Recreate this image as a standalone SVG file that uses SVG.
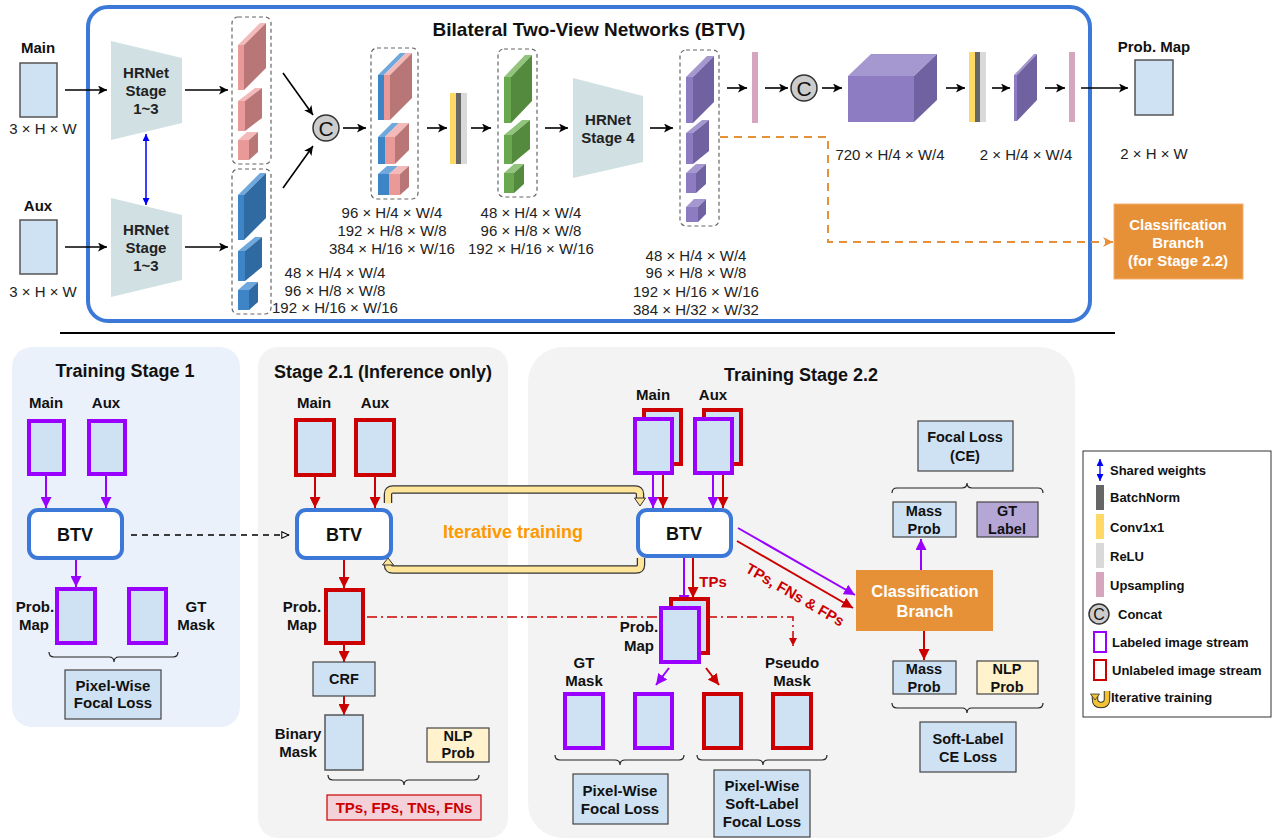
<svg xmlns="http://www.w3.org/2000/svg" width="1272" height="839" viewBox="0 0 1272 839">
  <style>
    text { font-family: "Liberation Sans", Arial, sans-serif; fill: #111; text-anchor: middle; }
    .b { font-weight: bold; }
    .lbl { font-size: 15px; font-weight: bold; }
    .dim { font-size: 15px; fill: #222; }
    .hr { font-size: 15px; font-weight: bold; fill: #222; }
    .btv { font-size: 18px; font-weight: bold; }
    .ttl { font-size: 18px; font-weight: bold; }
    .box { font-size: 14.5px; font-weight: bold; }
    .leg { font-size: 13px; font-weight: bold; text-anchor: start; }
    .wht { fill: #fff; font-weight: bold; }
    .red { fill: #cc0000; font-weight: bold; }
    .img { fill: #cfe2f3; stroke: #555; stroke-width: 1.5; }
    .lab { fill: #cfe2f3; stroke: #9900ff; stroke-width: 4; }
    .unl { fill: #cfe2f3; stroke: #cc0000; stroke-width: 4; }
    .net { fill: #fff; stroke: #3c78d8; stroke-width: 4; }
    .hrnet { fill: #d0e0e3; }
    .stack { fill: none; stroke: #666; stroke-width: 1.2; stroke-dasharray: 4 3; }
    .ar { stroke: #000; stroke-width: 1.6; fill: none; marker-end: url(#ahK); }
    .arP { stroke: #9900ff; stroke-width: 2; fill: none; marker-end: url(#ahP); }
    .arR { stroke: #cc0000; stroke-width: 2; fill: none; marker-end: url(#ahR); }
    .brace { fill: none; stroke: #222; stroke-width: 1.2; }
    .loss { fill: #cfe2f3; stroke: #444; stroke-width: 1.2; }
    .concat { fill: #cccccc; stroke: #333; stroke-width: 1.5; }
    .pkF { fill: #ea9999; } .pkT { fill: #f4b9b9; } .pkS { fill: #b87676; }
    .blF { fill: #3d85c6; } .blT { fill: #6fa8dc; } .blS { fill: #2f6aa2; }
    .gnF { fill: #6aa84f; } .gnT { fill: #93c47d; } .gnS { fill: #548a3e; }
    .puF { fill: #8e7cc3; } .puT { fill: #a597cf; } .puS { fill: #7062a0; }
    .iter { fill: none; stroke-linejoin: round; }
  </style>
  <defs>
    <marker id="ahK" viewBox="0 0 10 10" refX="10" refY="5" markerWidth="10" markerHeight="9" markerUnits="userSpaceOnUse" orient="auto">
      <path d="M0,0 L10,5 L0,10 L2.5,5 z" fill="#000"/>
    </marker>
    <marker id="ahP" viewBox="0 0 10 10" refX="10" refY="5" markerWidth="11" markerHeight="11" markerUnits="userSpaceOnUse" orient="auto">
      <path d="M0,0 L10,5 L0,10 z" fill="#9900ff"/>
    </marker>
    <marker id="ahR" viewBox="0 0 10 10" refX="10" refY="5" markerWidth="11" markerHeight="11" markerUnits="userSpaceOnUse" orient="auto">
      <path d="M0,0 L10,5 L0,10 z" fill="#cc0000"/>
    </marker>
    <marker id="ahRs" viewBox="0 0 10 10" refX="10" refY="5" markerWidth="8" markerHeight="8" markerUnits="userSpaceOnUse" orient="auto">
      <path d="M0,0 L10,5 L0,10 z" fill="#cc0000"/>
    </marker>
    <marker id="ahB" viewBox="0 0 10 10" refX="10" refY="5" markerWidth="8" markerHeight="7" markerUnits="userSpaceOnUse" orient="auto-start-reverse">
      <path d="M0,0 L10,5 L0,10 z" fill="#0000ff"/>
    </marker>
    <marker id="ahO" viewBox="0 0 10 10" refX="10" refY="5" markerWidth="11" markerHeight="10" markerUnits="userSpaceOnUse" orient="auto">
      <path d="M0,0 L10,5 L0,10 L3,5 z" fill="#e69138"/>
    </marker>
    <marker id="ahOpen" viewBox="0 0 10 10" refX="10" refY="5" markerWidth="9" markerHeight="8" markerUnits="userSpaceOnUse" orient="auto">
      <path d="M1,1 L9.5,5 L1,9 z" fill="#fff" stroke="#000" stroke-width="1.3"/>
    </marker>
  </defs>

  <rect width="1272" height="839" fill="#fff"/>

  <!-- ============ BTV architecture ============ -->
  <g id="btv-frame">
    <rect x="88" y="7" width="1002" height="314" rx="20" fill="none" stroke="#3c78d8" stroke-width="4"/>
    <text x="589" y="36" class="b" style="font-size:19px">Bilateral Two-View Networks (BTV)</text>
  </g>

  <g id="input-main">
    <text x="38" y="53" class="lbl">Main</text>
    <rect x="20" y="63" width="37" height="54" class="img"/>
    <text x="43" y="134" class="dim">3 × H × W</text>
  </g>
  <g id="input-aux">
    <text x="38" y="211" class="lbl">Aux</text>
    <rect x="20" y="220" width="37" height="54" class="img"/>
    <text x="43" y="297" class="dim">3 × H × W</text>
  </g>

  <g id="hrnet-main">
    <polygon points="111,41 182,58 182,123 111,140" class="hrnet"/>
    <text x="146" y="78" class="hr">HRNet</text>
    <text x="146" y="96" class="hr">Stage</text>
    <text x="146" y="114" class="hr">1~3</text>
  </g>
  <g id="hrnet-aux">
    <polygon points="111,198 182,215 182,280 111,297" class="hrnet"/>
    <text x="146" y="235" class="hr">HRNet</text>
    <text x="146" y="253" class="hr">Stage</text>
    <text x="146" y="271" class="hr">1~3</text>
  </g>

  <g id="feat-main">
    <rect x="232" y="17" width="39" height="147" rx="6" class="stack"/>
    <rect x="238" y="45" width="6" height="45" class="pkF"/>
    <polygon points="238,45 244,45 266,23 260,23" class="pkT"/>
    <polygon points="244,45 266,23 266,68 244,90" class="pkS"/>
    <rect x="238" y="101" width="7" height="30" class="pkF"/>
    <polygon points="238,101 245,101 262,88 255,88" class="pkT"/>
    <polygon points="245,101 262,88 262,118 245,131" class="pkS"/>
    <rect x="238" y="140" width="11" height="20" class="pkF"/>
    <polygon points="238,140 249,140 258,132 247,132" class="pkT"/>
    <polygon points="249,140 258,132 258,152 249,160" class="pkS"/>
  </g>
  <g id="feat-aux">
    <rect x="232" y="169" width="39" height="145" rx="6" class="stack"/>
    <rect x="238" y="195" width="6" height="45" class="blF"/>
    <polygon points="238,195 244,195 266,173 260,173" class="blT"/>
    <polygon points="244,195 266,173 266,218 244,240" class="blS"/>
    <rect x="238" y="251" width="7" height="30" class="blF"/>
    <polygon points="238,251 245,251 262,237 255,237" class="blT"/>
    <polygon points="245,251 262,237 262,267 245,281" class="blS"/>
    <rect x="238" y="290" width="11" height="20" class="blF"/>
    <polygon points="238,290 249,290 258,282 247,282" class="blT"/>
    <polygon points="249,290 258,282 258,302 249,310" class="blS"/>
    <text x="335" y="278" class="dim">48 × H/4 × W/4</text>
    <text x="335" y="296" class="dim">96 × H/8 × W/8</text>
    <text x="335" y="313" class="dim">192 × H/16 × W/16</text>
  </g>

  <g id="concat-1">
    <circle cx="326" cy="128" r="13" class="concat"/>
    <text x="326" y="135.5" style="font-size:21px">C</text>
  </g>

  <g id="feat-concat">
    <rect x="371" y="48" width="47" height="151" rx="6" class="stack"/>
    <rect x="378" y="75" width="6" height="45" class="blF"/>
    <rect x="384" y="75" width="6" height="45" class="pkF"/>
    <polygon points="378,75 384,75 406,53 400,53" class="blT"/>
    <polygon points="384,75 390,75 412,53 406,53" class="pkT"/>
    <polygon points="390,75 412,53 412,98 390,120" class="pkS"/>
    <rect x="378" y="137" width="7" height="27" class="blF"/>
    <rect x="385" y="137" width="10" height="27" class="pkF"/>
    <polygon points="378,137 385,137 399,123 392,123" class="blT"/>
    <polygon points="385,137 395,137 409,123 399,123" class="pkT"/>
    <polygon points="395,137 409,123 409,150 395,164" class="pkS"/>
    <rect x="378" y="174" width="11" height="21" class="blF"/>
    <rect x="389" y="174" width="11" height="21" class="pkF"/>
    <polygon points="378,174 389,174 398,166 387,166" class="blT"/>
    <polygon points="389,174 400,174 409,166 398,166" class="pkT"/>
    <polygon points="400,174 409,166 409,187 400,195" class="pkS"/>
    <text x="392" y="218" class="dim">96 × H/4 × W/4</text>
    <text x="392" y="236" class="dim">192 × H/8 × W/8</text>
    <text x="392" y="254" class="dim">384 × H/16 × W/16</text>
  </g>

  <g id="fuse-1">
    <rect x="450" y="93" width="6" height="71" fill="#ffd966"/>
    <rect x="456" y="93" width="5" height="71" fill="#666666"/>
    <rect x="461" y="93" width="6" height="71" fill="#d9d9d9"/>
  </g>

  <g id="feat-fused">
    <rect x="498" y="49" width="39" height="148" rx="6" class="stack"/>
    <rect x="504" y="77" width="7" height="46" class="gnF"/>
    <polygon points="504,77 511,77 532,55 525,55" class="gnT"/>
    <polygon points="511,77 532,55 532,101 511,123" class="gnS"/>
    <rect x="504" y="135" width="8" height="29" class="gnF"/>
    <polygon points="504,135 512,135 530,120 522,120" class="gnT"/>
    <polygon points="512,135 530,120 530,149 512,164" class="gnS"/>
    <rect x="504" y="173" width="10" height="20" class="gnF"/>
    <polygon points="504,173 514,173 524,164 514,164" class="gnT"/>
    <polygon points="514,173 524,164 524,184 514,193" class="gnS"/>
    <text x="531" y="218" class="dim">48 × H/4 × W/4</text>
    <text x="531" y="236" class="dim">96 × H/8 × W/8</text>
    <text x="531" y="254" class="dim">192 × H/16 × W/16</text>
  </g>

  <g id="hrnet-stage4">
    <polygon points="573,78 643,96 643,162 573,178" class="hrnet"/>
    <text x="608" y="125" class="hr">HRNet</text>
    <text x="608" y="143" class="hr">Stage 4</text>
  </g>

  <g id="feat-stage4">
    <rect x="680" y="50" width="39" height="176" rx="6" class="stack"/>
    <rect x="686" y="77" width="7" height="46" class="puF"/>
    <polygon points="686,77 693,77 714,56 707,56" class="puT"/>
    <polygon points="693,77 714,56 714,102 693,123" class="puS"/>
    <rect x="686" y="133" width="7" height="31" class="puF"/>
    <polygon points="686,133 693,133 709,120 702,120" class="puT"/>
    <polygon points="693,133 709,120 709,151 693,164" class="puS"/>
    <rect x="686" y="173" width="10" height="20" class="puF"/>
    <polygon points="686,173 696,173 706,164 696,164" class="puT"/>
    <polygon points="696,173 706,164 706,184 696,193" class="puS"/>
    <rect x="686" y="207" width="12" height="15" class="puF"/>
    <polygon points="686,207 698,207 706,199 694,199" class="puT"/>
    <polygon points="698,207 706,199 706,214 698,222" class="puS"/>
    <text x="696" y="261" class="dim">48 × H/4 × W/4</text>
    <text x="696" y="278" class="dim">96 × H/8 × W/8</text>
    <text x="696" y="297" class="dim">192 × H/16 × W/16</text>
    <text x="696" y="315" class="dim">384 × H/32 × W/32</text>
  </g>

  <g id="upsample-1">
    <rect x="752" y="52" width="6" height="71" fill="#d5a6bd"/>
  </g>
  <g id="concat-2">
    <circle cx="804" cy="88" r="13" class="concat"/>
    <text x="804" y="95.5" style="font-size:21px">C</text>
  </g>
  <g id="feat-720">
    <rect x="848" y="76" width="66" height="46" class="puF"/>
    <polygon points="848,76 914,76 937,54 871,54" class="puT"/>
    <polygon points="914,76 937,54 937,100 914,122" class="puS"/>
    <text x="890" y="160" class="dim">720 × H/4 × W/4</text>
  </g>
  <g id="fuse-2">
    <rect x="969" y="52" width="6" height="70" fill="#ffd966"/>
    <rect x="975" y="52" width="5" height="70" fill="#666666"/>
    <rect x="980" y="52" width="6" height="70" fill="#d9d9d9"/>
  </g>
  <g id="feat-2ch">
    <rect x="1014" y="75" width="3" height="46" class="puF"/>
    <polygon points="1014,75 1017,75 1037,54 1034,54" class="puT"/>
    <polygon points="1017,75 1037,54 1037,100 1017,121" class="puS"/>
    <text x="1026" y="160" class="dim">2 × H/4 × W/4</text>
  </g>
  <g id="upsample-2">
    <rect x="1069" y="52" width="6" height="70" fill="#d5a6bd"/>
  </g>
  <g id="output-prob-map">
    <text x="1154" y="52" class="lbl">Prob. Map</text>
    <rect x="1135" y="60" width="38" height="55" class="img"/>
    <text x="1154" y="159" class="dim">2 × H × W</text>
  </g>
  <g id="cls-branch-ref">
    <rect x="1114" y="204" width="129" height="75" fill="#e69138" stroke="#f3b070" stroke-width="1"/>
    <text x="1178" y="230" class="wht" style="font-size:15px">Classification</text>
    <text x="1178" y="248" class="wht" style="font-size:15px">Branch</text>
    <text x="1178" y="266" class="wht" style="font-size:15px">(for Stage 2.2)</text>
  </g>

  <line x1="60" y1="333" x2="1115" y2="333" stroke="#000" stroke-width="2"/>

  <!-- ============ training stage panels ============ -->
  <g id="panel-stage1">
    <rect x="12" y="347" width="228" height="380" rx="20" fill="#ebf1fa"/>
    <text x="125" y="377" class="ttl">Training Stage 1</text>
  </g>
  <g id="panel-stage21">
    <rect x="258" y="347" width="250" height="491" rx="20" fill="#f3f3f3"/>
    <text x="383" y="378" class="ttl">Stage 2.1 (Inference only)</text>
  </g>
  <g id="panel-stage22">
    <rect x="528" y="347" width="547" height="491" rx="35" fill="#f3f3f3"/>
    <text x="801" y="381" class="ttl">Training Stage 2.2</text>
  </g>

  <!-- ============ connectors ============ -->
  <g id="connectors">
    <!-- architecture flow -->
    <line x1="65" y1="90" x2="107" y2="90" class="ar"/>
    <line x1="65" y1="247" x2="107" y2="247" class="ar"/>
    <line x1="146" y1="134" x2="146" y2="205" stroke="#0000ff" stroke-width="1.5" marker-start="url(#ahB)" marker-end="url(#ahB)"/>
    <line x1="185" y1="90" x2="228" y2="90" class="ar"/>
    <line x1="185" y1="247" x2="228" y2="247" class="ar"/>
    <line x1="283" y1="73" x2="313" y2="115" class="ar"/>
    <line x1="283" y1="188" x2="313" y2="146" class="ar"/>
    <line x1="343" y1="128" x2="366" y2="128" class="ar"/>
    <line x1="427" y1="128" x2="447" y2="128" class="ar"/>
    <line x1="471" y1="128" x2="491" y2="128" class="ar"/>
    <line x1="545" y1="128" x2="568" y2="128" class="ar"/>
    <line x1="650" y1="128" x2="673" y2="128" class="ar"/>
    <line x1="727" y1="88" x2="747" y2="88" class="ar"/>
    <line x1="765" y1="88" x2="788" y2="88" class="ar"/>
    <line x1="822" y1="88" x2="842" y2="88" class="ar"/>
    <line x1="946" y1="88" x2="965" y2="88" class="ar"/>
    <line x1="992" y1="88" x2="1010" y2="88" class="ar"/>
    <line x1="1045" y1="88" x2="1065" y2="88" class="ar"/>
    <line x1="1081" y1="88" x2="1128" y2="88" class="ar"/>
    <path d="M720,137 H828 V242 H1113" fill="none" stroke="#e69138" stroke-width="2" stroke-dasharray="8 6" marker-end="url(#ahO)"/>

    <!-- stage 1 -->
    <line x1="46" y1="476" x2="46" y2="508" class="arP"/>
    <line x1="106" y1="476" x2="106" y2="508" class="arP"/>
    <line x1="76" y1="560" x2="76" y2="587" class="arP"/>
    <line x1="131" y1="535" x2="289" y2="535" stroke="#000" stroke-width="1.4" stroke-dasharray="6 5" marker-end="url(#ahOpen)"/>

    <!-- stage 2.1 -->
    <line x1="315" y1="477" x2="315" y2="508" class="arR"/>
    <line x1="375" y1="477" x2="375" y2="508" class="arR"/>
    <line x1="344" y1="560" x2="344" y2="588" class="arR"/>
    <line x1="344" y1="645" x2="344" y2="662" class="arR"/>
    <line x1="344" y1="696" x2="344" y2="715" class="arR"/>
    <path d="M367,617 H793 V646" fill="none" stroke="#cc0000" stroke-width="1.5" stroke-dasharray="10 4 2 4" marker-end="url(#ahRs)"/>

    <!-- iterative training loop -->
    <path d="M388,503 V494 Q388,489.5 393,489.5 H635 Q640,489.5 640,494 V498" class="iter" stroke="#333" stroke-width="8.5"/>
    <path d="M388,503.5 V494 Q388,489.5 393,489.5 H635 Q640,489.5 640,494 V498.5" class="iter" stroke="#ffe599" stroke-width="6"/>
    <polygon points="634.5,498 645.5,498 640,506" fill="#ffe599" stroke="#333" stroke-width="1"/>
    <path d="M641,558 V565 Q641,569.5 636,569.5 H393 Q388,569.5 388,565 V565.5" class="iter" stroke="#333" stroke-width="8.5"/>
    <path d="M641,557.5 V565 Q641,569.5 636,569.5 H393 Q388,569.5 388,565 V565" class="iter" stroke="#ffe599" stroke-width="6"/>
    <polygon points="382.5,565 393.5,565 388,558" fill="#ffe599" stroke="#333" stroke-width="1"/>

    <!-- stage 2.2 -->
    <line x1="653" y1="475" x2="653" y2="508" class="arP"/>
    <line x1="663" y1="466" x2="663" y2="508" class="arR"/>
    <line x1="713" y1="475" x2="713" y2="508" class="arP"/>
    <line x1="723" y1="466" x2="723" y2="508" class="arR"/>
    <line x1="684" y1="558" x2="684" y2="606" class="arP"/>
    <line x1="693" y1="558" x2="693" y2="598" class="arR"/>
    <line x1="669" y1="668" x2="656" y2="685" class="arP"/>
    <line x1="706" y1="668" x2="719" y2="685" class="arR"/>
    <line x1="738" y1="528" x2="855" y2="595" class="arP"/>
    <line x1="737" y1="541" x2="853" y2="608" class="arR"/>
    <line x1="921" y1="570" x2="921" y2="539" class="arP"/>
    <line x1="924" y1="631" x2="924" y2="660" class="arR"/>
  </g>

  <text x="513" y="537.5" class="b" style="font-size:18px; fill:#ff9900">Iterative training</text>

  <!-- ============ stage 1 nodes ============ -->
  <g id="s1-main">
    <text x="46" y="408" class="lbl">Main</text>
    <rect x="29" y="421" width="35" height="53" class="lab"/>
  </g>
  <g id="s1-aux">
    <text x="106" y="408" class="lbl">Aux</text>
    <rect x="89" y="421" width="36" height="53" class="lab"/>
  </g>
  <g id="s1-btv">
    <rect x="29" y="510" width="93" height="48" rx="9" class="net"/>
    <text x="75" y="541" class="btv">BTV</text>
  </g>
  <g id="s1-prob-map">
    <rect x="57" y="589" width="38" height="54" class="lab"/>
    <text x="35" y="612" class="lbl">Prob.</text>
    <text x="34" y="630" class="lbl">Map</text>
  </g>
  <g id="s1-gt-mask">
    <rect x="129" y="589" width="37" height="54" class="lab"/>
    <text x="196" y="612" class="lbl">GT</text>
    <text x="196" y="630" class="lbl">Mask</text>
  </g>
  <g id="s1-loss">
    <path d="M49,652 Q49,657 54,657 L109,657 Q114,657 114,662 Q114,657 119,657 L173,657 Q178,657 178,652" class="brace"/>
    <rect x="65" y="670" width="96" height="49" class="loss"/>
    <text x="113" y="691" class="lbl">Pixel-Wise</text>
    <text x="113" y="708" class="lbl">Focal Loss</text>
  </g>

  <!-- ============ stage 2.1 nodes ============ -->
  <g id="s21-main">
    <text x="314" y="408" class="lbl">Main</text>
    <rect x="296" y="420" width="38" height="55" class="unl"/>
  </g>
  <g id="s21-aux">
    <text x="375" y="408" class="lbl">Aux</text>
    <rect x="356" y="420" width="38" height="55" class="unl"/>
  </g>
  <g id="s21-btv">
    <rect x="297" y="510" width="94" height="48" rx="9" class="net"/>
    <text x="344" y="541" class="btv">BTV</text>
  </g>
  <g id="s21-prob-map">
    <rect x="326" y="590" width="37" height="53" class="unl"/>
    <text x="302" y="612" class="lbl">Prob.</text>
    <text x="302" y="630" class="lbl">Map</text>
  </g>
  <g id="s21-crf">
    <rect x="313" y="662" width="62" height="34" class="loss"/>
    <text x="344" y="684" class="box">CRF</text>
  </g>
  <g id="s21-binary-mask">
    <rect x="325" y="715" width="38" height="55" class="img"/>
    <text x="298" y="739" class="lbl">Binary</text>
    <text x="298" y="757" class="lbl">Mask</text>
  </g>
  <g id="s21-nlp-prob">
    <rect x="427" y="728" width="62" height="34" fill="#fff2cc" stroke="#444" stroke-width="1.2"/>
    <text x="458" y="741" class="box">NLP</text>
    <text x="458" y="758" class="box">Prob</text>
  </g>
  <g id="s21-outcome">
    <path d="M328,775 Q328,780 333,780 L399,780 Q404,780 404,785 Q404,780 409,780 L474,780 Q479,780 479,775" class="brace"/>
    <rect x="327" y="795" width="154" height="25" fill="#f4d0d8" stroke="#cc0000" stroke-width="1.2"/>
    <text x="404" y="813" class="red" style="font-size:15px">TPs, FPs, TNs, FNs</text>
  </g>

  <!-- ============ stage 2.2 nodes ============ -->
  <g id="s22-main">
    <text x="653" y="400" class="lbl">Main</text>
    <rect x="644" y="410" width="37" height="54" class="unl"/>
    <rect x="635" y="419" width="37" height="54" class="lab"/>
  </g>
  <g id="s22-aux">
    <text x="713" y="400" class="lbl">Aux</text>
    <rect x="704" y="410" width="37" height="54" class="unl"/>
    <rect x="695" y="419" width="37" height="54" class="lab"/>
  </g>
  <g id="s22-btv">
    <rect x="638" y="510" width="93" height="46" rx="9" class="net"/>
    <text x="684" y="540" class="btv">BTV</text>
  </g>
  <text x="713" y="587" class="red" style="font-size:15px">TPs</text>
  <text x="795" y="600" class="red" style="font-size:15px" transform="rotate(30 795 595)">TPs, FNs &amp; FPs</text>
  <g id="s22-prob-map">
    <rect x="671" y="599" width="37" height="54" class="unl"/>
    <rect x="661" y="608" width="38" height="54" class="lab"/>
    <text x="639" y="632" class="lbl">Prob.</text>
    <text x="639" y="651" class="lbl">Map</text>
  </g>
  <g id="s22-gt-mask">
    <text x="584" y="668" class="lbl">GT</text>
    <text x="584" y="686" class="lbl">Mask</text>
    <rect x="565" y="694" width="38" height="54" class="lab"/>
  </g>
  <g id="s22-pred-labeled">
    <rect x="635" y="694" width="37" height="54" class="lab"/>
  </g>
  <g id="s22-pred-unlabeled">
    <rect x="704" y="694" width="37" height="54" class="unl"/>
  </g>
  <g id="s22-pseudo-mask">
    <text x="792" y="668" class="lbl">Pseudo</text>
    <text x="792" y="686" class="lbl">Mask</text>
    <rect x="773" y="694" width="38" height="54" class="unl"/>
  </g>
  <g id="s22-focal-loss">
    <path d="M555,755 Q555,760 560,760 L615,760 Q620,760 620,765 Q620,760 625,760 L679,760 Q684,760 684,755" class="brace"/>
    <rect x="573" y="774" width="95" height="50" class="loss"/>
    <text x="620" y="796" class="lbl">Pixel-Wise</text>
    <text x="620" y="814" class="lbl">Focal Loss</text>
  </g>
  <g id="s22-soft-focal-loss">
    <path d="M697,755 Q697,760 702,760 L758,760 Q763,760 763,765 Q763,760 768,760 L822,760 Q827,760 827,755" class="brace"/>
    <rect x="714" y="770" width="96" height="67" class="loss"/>
    <text x="762" y="791" class="lbl">Pixel-Wise</text>
    <text x="762" y="809" class="lbl">Soft-Label</text>
    <text x="762" y="827" class="lbl">Focal Loss</text>
  </g>
  <g id="s22-cls-branch">
    <rect x="856" y="570" width="137" height="61" fill="#e69138"/>
    <text x="925" y="597" class="wht" style="font-size:16.5px">Classification</text>
    <text x="925" y="617" class="wht" style="font-size:16.5px">Branch</text>
  </g>
  <g id="s22-focal-ce">
    <rect x="918" y="421" width="95" height="50" class="loss"/>
    <text x="965" y="442" class="box">Focal Loss</text>
    <text x="965" y="461" class="box">(CE)</text>
    <path d="M892,493 Q892,488 897,488 L962,488 Q967,488 967,483 Q967,488 972,488 L1038,488 Q1043,488 1043,493" class="brace"/>
  </g>
  <g id="s22-mass-prob-labeled">
    <rect x="893" y="502" width="63" height="35" class="loss"/>
    <text x="924" y="516" class="box">Mass</text>
    <text x="924" y="534" class="box">Prob</text>
  </g>
  <g id="s22-gt-label">
    <rect x="977" y="502" width="61" height="35" fill="#b4a7d6" stroke="#444" stroke-width="1.2"/>
    <text x="1007" y="516" class="box">GT</text>
    <text x="1007" y="534" class="box">Label</text>
  </g>
  <g id="s22-mass-prob-unlabeled">
    <rect x="893" y="661" width="63" height="33" class="loss"/>
    <text x="924" y="674" class="box">Mass</text>
    <text x="924" y="692" class="box">Prob</text>
  </g>
  <g id="s22-nlp-prob">
    <rect x="977" y="661" width="61" height="33" fill="#fff2cc" stroke="#444" stroke-width="1.2"/>
    <text x="1007" y="674" class="box">NLP</text>
    <text x="1007" y="692" class="box">Prob</text>
  </g>
  <g id="s22-soft-ce">
    <path d="M892,703 Q892,708 897,708 L962,708 Q967,708 967,713 Q967,708 972,708 L1038,708 Q1043,708 1043,703" class="brace"/>
    <rect x="920" y="722" width="96" height="50" class="loss"/>
    <text x="968" y="744" class="box">Soft-Label</text>
    <text x="968" y="762" class="box">CE Loss</text>
  </g>

  <!-- ============ legend ============ -->
  <g id="legend">
    <rect x="1083" y="451" width="188" height="266" fill="#fff" stroke="#333" stroke-width="1"/>
    <line x1="1100" y1="459" x2="1100" y2="481" stroke="#0000ff" stroke-width="1.3" marker-start="url(#ahB)" marker-end="url(#ahB)"/>
    <text x="1110" y="474.5" class="leg">Shared weights</text>
    <rect x="1096" y="485" width="8" height="25" fill="#666666"/>
    <text x="1110" y="502" class="leg">BatchNorm</text>
    <rect x="1096" y="514" width="8" height="25" fill="#ffd966"/>
    <text x="1110" y="531.5" class="leg">Conv1x1</text>
    <rect x="1096" y="543" width="8" height="25" fill="#d9d9d9"/>
    <text x="1110" y="560.5" class="leg">ReLU</text>
    <rect x="1096" y="572" width="8" height="25" fill="#d5a6bd"/>
    <text x="1110" y="589.5" class="leg">Upsampling</text>
    <circle cx="1099" cy="614" r="10" class="concat"/>
    <text x="1099" y="620" style="font-size:16px">C</text>
    <text x="1118" y="618.5" class="leg">Concat</text>
    <rect x="1094" y="632" width="12" height="20" fill="#fff" stroke="#9900ff" stroke-width="2"/>
    <text x="1112" y="646.5" class="leg">Labeled image stream</text>
    <rect x="1094" y="660" width="12" height="20" fill="#fff" stroke="#cc0000" stroke-width="2"/>
    <text x="1112" y="674.5" class="leg">Unlabeled image stream</text>
    <path d="M1095,694 V699 Q1095,705 1101,705 Q1107,705 1107,699 V691" fill="none" stroke="#333" stroke-width="6.5" stroke-linejoin="round"/>
    <path d="M1095,694 V699 Q1095,705 1101,705 Q1107,705 1107,699 V691" fill="none" stroke="#f1c232" stroke-width="4.5" stroke-linejoin="round"/>
    <polygon points="1090.5,694 1099.5,694 1095,700" fill="#f1c232" stroke="#333" stroke-width="0.8"/>
    <text x="1111" y="701.5" class="leg">Iterative training</text>
  </g>
</svg>
